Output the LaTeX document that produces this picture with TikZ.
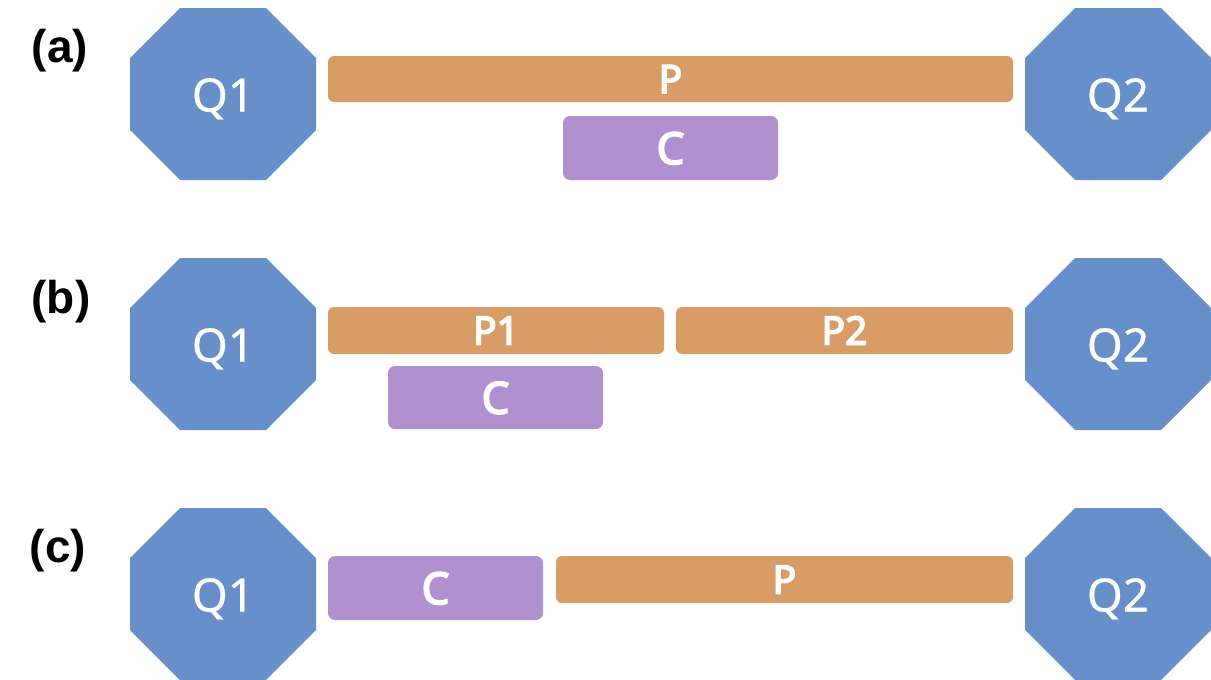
\documentclass[tikz,border=0pt]{standalone}
\usepackage{fontspec}
\setmainfont{Noto Sans}
\newfontfamily\qfont[FakeBold=0.6]{Noto Sans}
\newfontfamily\semib[FakeBold=4]{Noto Sans}
\newfontfamily\labfont{Liberation Sans}
\definecolor{qblue}{RGB}{103,143,202}
\definecolor{porange}{RGB}{218,156,102}
\definecolor{cpurple}{RGB}{177,144,208}
\tikzset{
  octfill/.style={fill=qblue, draw=none},
  qtext/.style={text=white, inner sep=0pt, text height=33pt, text depth=0pt,
    font=\qfont\fontsize{46}{46}\selectfont},
  pbox/.style={fill=porange, draw=none, rounded corners=6pt, text=white, inner sep=0pt,
    text height=28pt, text depth=0pt, font=\semib\fontsize{39}{39}\selectfont},
  cbox/.style={fill=cpurple, draw=none, rounded corners=7pt, text=white, inner sep=0pt,
    text height=32pt, text depth=0pt, font=\semib\fontsize{44}{44}\selectfont},
  lab/.style={text=black, inner sep=0pt, font=\labfont\bfseries\fontsize{46}{46}\selectfont},
}
\newcommand\octnode[4]{%
  \fill[octfill, shift={(#2,#3)}] (-93,-36) -- (-43,-86) -- (43,-86) -- (93,-36)
    -- (93,36) -- (43,86) -- (-43,86) -- (-93,36) -- cycle;
  \node[qtext] (#1) at (#2,#3+1) {#4};}
\begin{document}
\begin{tikzpicture}[x=1pt,y=-1pt]
\useasboundingbox (0,0) rectangle (1211,680);
% row (a)
\node[lab] (la) at (60,51) {(a)};
\octnode{Q1a}{223}{94}{Q1}
\octnode{Q2a}{1118}{94}{Q2}
\node[pbox, minimum width=685pt, minimum height=46pt] (Pa) at (670.5,79) {P};
\node[cbox, minimum width=215pt, minimum height=64pt] (Ca) at (670.5,148) {C};
% row (b)
\node[lab] (lb) at (61,302) {(b)};
\octnode{Q1b}{223}{344}{Q1}
\octnode{Q2b}{1118}{344}{Q2}
\node[pbox, minimum width=336pt, minimum height=47pt] (P1b) at (496,330.5) {P1};
\node[pbox, minimum width=337pt, minimum height=47pt] (P2b) at (844.5,330.5) {P2};
\node[cbox, minimum width=215pt, minimum height=63pt] (Cb) at (495.5,397.5) {C};
% row (c)
\node[lab] (lc) at (58,551) {(c)};
\octnode{Q1c}{223}{594}{Q1}
\octnode{Q2c}{1118}{594}{Q2}
\node[cbox, minimum width=215pt, minimum height=64pt] (Cc) at (435.5,588) {C};
\node[pbox, minimum width=457pt, minimum height=47pt] (Pc) at (784.5,579.5) {P};
\end{tikzpicture}
\end{document}
